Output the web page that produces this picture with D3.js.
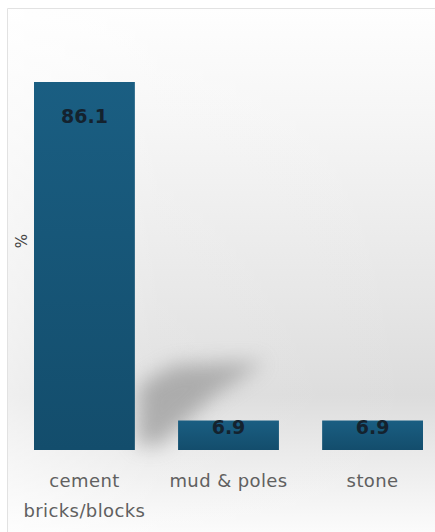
<!DOCTYPE html>
<html>
<head>
<meta charset="utf-8">
<script src="https://cdn.jsdelivr.net/npm/d3@7"></script>
<style>
  html, body { margin: 0; padding: 0; background: #ffffff; }
  svg { display: block; }
</style>
</head>
<body>
<div id="chart"></div>
<script>
// Wall material shares (%)
const categories = ["cement bricks/blocks", "mud & poles", "stone"];
const categoryLines = [["cement", "bricks/blocks"], ["mud & poles"], ["stone"]];
const values = [86.1, 6.9, 6.9];
const valueLabels = ["86.1", "6.9", "6.9"];
const axisTitle = "%";

const W = 435, H = 532;
const panel = { x: 7, y: 8 };
const plot = { left: 34, right: 423, top: 82, bottom: 450 };

const svg = d3.select("#chart").append("svg")
  .attr("width", W).attr("height", H);

const defs = svg.append("defs");

const bg = defs.append("linearGradient").attr("id", "bg")
  .attr("x1", 0).attr("y1", 0).attr("x2", 0).attr("y2", 1);
[[0, "#fefefe"], [0.2, "#f6f6f6"], [0.55, "#e6e6e6"], [0.74, "#dcdcdc"], [0.86, "#ebebeb"], [1, "#fbfbfb"]]
  .forEach(([o, c]) => bg.append("stop").attr("offset", o).attr("stop-color", c));

const bgSide = defs.append("linearGradient").attr("id", "bgSide")
  .attr("x1", 0).attr("y1", 0).attr("x2", 1).attr("y2", 0);
bgSide.append("stop").attr("offset", 0).attr("stop-color", "#fff").attr("stop-opacity", 0.55);
bgSide.append("stop").attr("offset", 0.35).attr("stop-color", "#fff").attr("stop-opacity", 0.1);
bgSide.append("stop").attr("offset", 1).attr("stop-color", "#fff").attr("stop-opacity", 0);

const barGrad = defs.append("linearGradient").attr("id", "barGrad")
  .attr("x1", 0).attr("y1", 0).attr("x2", 0).attr("y2", 1);
barGrad.append("stop").attr("offset", 0).attr("stop-color", "#1a5e82");
barGrad.append("stop").attr("offset", 1).attr("stop-color", "#134d6c");

const blur = defs.append("filter").attr("id", "shadowBlur")
  .attr("x", "-50%").attr("y", "-50%").attr("width", "200%").attr("height", "200%");
blur.append("feGaussianBlur").attr("stdDeviation", 10);

// panel background
svg.append("rect").attr("x", panel.x).attr("y", panel.y)
  .attr("width", W - panel.x).attr("height", H - panel.y)
  .attr("fill", "url(#bg)");
svg.append("rect").attr("x", panel.x).attr("y", panel.y)
  .attr("width", W - panel.x).attr("height", H - panel.y)
  .attr("fill", "url(#bgSide)");
svg.append("path")
  .attr("d", `M${panel.x + 0.5},${H} V${panel.y + 0.5} H${W}`)
  .attr("fill", "none").attr("stroke", "#e2e2e2");

const x = d3.scaleBand().domain(categories)
  .range([plot.left, plot.right]).paddingInner(0.3).paddingOuter(0);
const y = d3.scaleLinear().domain([0, 86.1]).range([plot.bottom, plot.top]);

// cast shadow behind the tall bar
const b0 = x(categories[0]) + x.bandwidth();
svg.append("path")
  .attr("d", `M${b0 + 2},${plot.bottom - 5} L${b0 + 5},${plot.bottom - 65} L${b0 + 40},${plot.bottom - 85} L${b0 + 130},${plot.bottom - 88} L${b0 + 80},${plot.bottom - 55} L${b0 + 25},${plot.bottom - 5} Z`)
  .attr("fill", "#8a8a8a").attr("opacity", 0.6)
  .attr("filter", "url(#shadowBlur)");

// bars
svg.append("g").selectAll("rect").data(categories).join("rect")
  .attr("x", d => x(d))
  .attr("y", (d, i) => y(values[i]))
  .attr("width", x.bandwidth())
  .attr("height", (d, i) => y(0) - y(values[i]))
  .attr("fill", "url(#barGrad)");

// value labels
svg.append("g").selectAll("text").data(categories).join("text")
  .attr("x", d => x(d) + x.bandwidth() / 2)
  .attr("y", (d, i) => values[i] > 20 ? y(values[i]) + 41 : y(values[i]) + 13)
  .attr("text-anchor", "middle")
  .attr("font-family", "DejaVu Sans, Verdana, sans-serif")
  .attr("font-weight", "bold")
  .attr("font-size", 19)
  .attr("fill", "#14222e")
  .text((d, i) => valueLabels[i]);

// category labels
const axis = d3.axisBottom(x).tickSize(0).tickFormat("");
const ax = svg.append("g").attr("transform", `translate(0,${plot.bottom})`).call(axis);
ax.select(".domain").remove();
ax.selectAll(".tick").each(function (d, i) {
  const t = d3.select(this).append("text")
    .attr("text-anchor", "middle")
    .attr("font-family", "DejaVu Sans, sans-serif")
    .attr("font-size", 18)
    .attr("letter-spacing", 0.4)
    .attr("fill", "#606060");
  categoryLines[i].forEach((line, k) => {
    t.append("tspan").attr("x", 0).attr("y", 37 + k * 30).text(line);
  });
});

// y-axis title
svg.append("text")
  .attr("transform", `translate(27,${(plot.top + plot.bottom) / 2 - 25}) rotate(-90)`)
  .attr("text-anchor", "middle")
  .attr("font-family", "DejaVu Sans, sans-serif")
  .attr("font-size", 15)
  .attr("fill", "#444")
  .text(axisTitle);
</script>
</body>
</html>
